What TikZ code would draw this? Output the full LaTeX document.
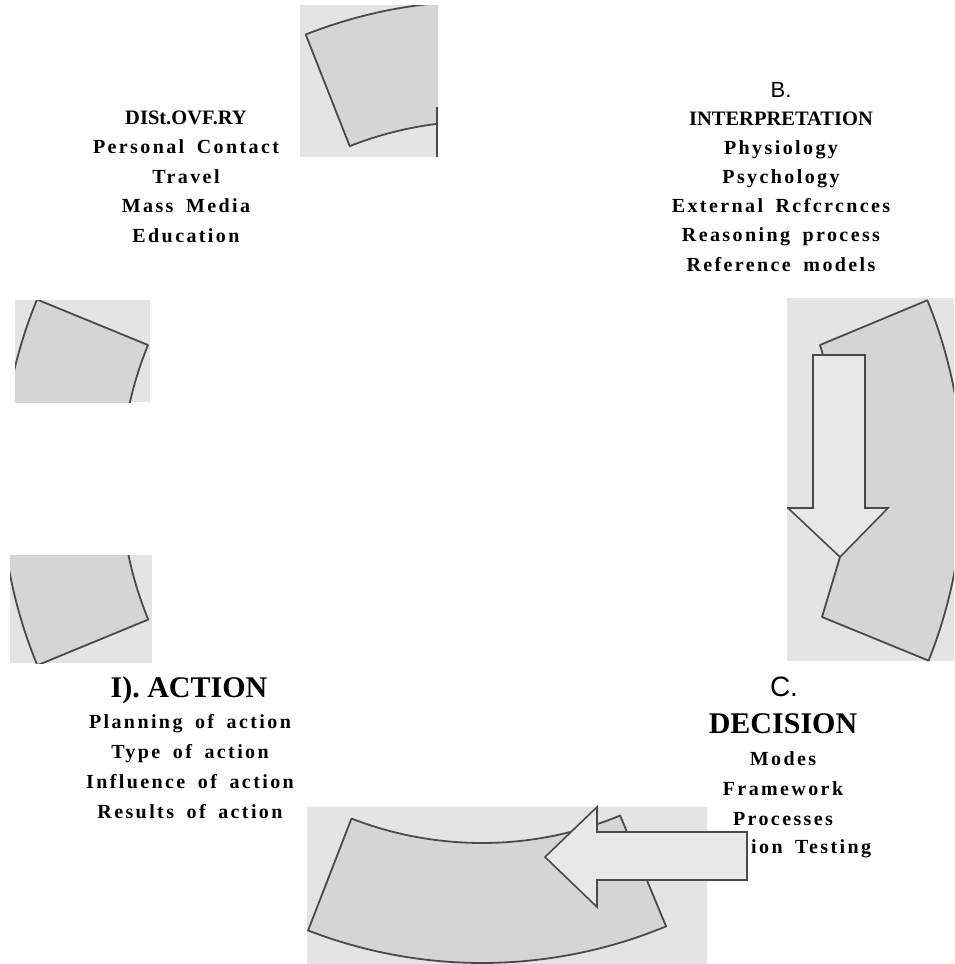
\documentclass[tikz,border=0pt]{standalone}
\usepackage{fontspec}
\setmainfont{Liberation Serif}
\newfontfamily\spacedserif[LetterSpace=12,WordSpace=1.7]{Liberation Serif}
\newfontfamily\labelsans{Liberation Sans}
\usetikzlibrary{calc}

\definecolor{scangray}{HTML}{E4E4E4}
\definecolor{bandgray}{HTML}{D5D5D5}
\definecolor{inkgray}{HTML}{4A4A4A}
\definecolor{arrowgray}{HTML}{E8E8E8}

\tikzset{
  scan/.style={fill=scangray, draw=none},
  band/.style={fill=bandgray, draw=inkgray, line width=1.8pt, line join=round},
  bigarrow/.style={fill=arrowgray, draw=inkgray, line width=1.6pt, line join=miter},
  itemtext/.style={font=\spacedserif\bfseries\fontsize{20}{24}\selectfont, inner sep=0pt, anchor=base},
  headtext/.style={font=\bfseries\fontsize{20.5}{24}\selectfont, inner sep=0pt, anchor=base},
  bigtext/.style={font=\bfseries\fontsize{30}{34}\selectfont, inner sep=0pt, anchor=base},
  lettertext/.style={font=\labelsans\fontsize{22}{26}\selectfont, inner sep=0pt, anchor=base},
}

\begin{document}
\begin{tikzpicture}[x=1pt,y=-1pt]
\fill[white] (0,0) rectangle (954,964);
\useasboundingbox (0,0) rectangle (954,964);
\coordinate (O) at (482,482);

  % top scrap
  \begin{scope}
  \clip (300,5) rectangle (438,157);
  \fill[scan] (300,5) rectangle (438,157);
  \draw[band] ($(O)+(-111.5:481)$) arc[start angle=-111.5, end angle=-75, radius=481]
     -- ($(O)+(-75:361)$) arc[start angle=-75, end angle=-111.5, radius=361] -- cycle;
  \end{scope}
  \draw[inkgray, line width=1.6pt] (437,107) -- (437,157);

  % left scraps
  \begin{scope}
  \clip (15,300) rectangle (150,402);
  \fill[scan] (15,300) rectangle (150,402);
  \draw[band] ($(O)+(-157.7:481)$) arc[start angle=-157.7, end angle=-185, radius=481]
     -- ($(O)+(-185:361)$) arc[start angle=-185, end angle=-157.7, radius=361] -- cycle;
  \end{scope}
  \begin{scope}
  \clip (10,555) rectangle (152,663);
  \fill[scan] (10,555) rectangle (152,663);
  \draw[band] ($(O)+(157.6:481)$) arc[start angle=157.6, end angle=185, radius=481]
     -- ($(O)+(185:361)$) arc[start angle=185, end angle=157.6, radius=361] -- cycle;
  \end{scope}

  % right scrap with down arrow
  \begin{scope}
  \clip (787,298) rectangle (954,661);
  \fill[scan] (787,298) rectangle (954,661);
  \draw[band] (823,355) -- (820,345) -- ($(O)+(-22.2:481)$)
     arc[start angle=-22.2, end angle=21.8, radius=481]
     -- (822,617) -- (840,557) -- cycle;
  \draw[bigarrow] (813,355) -- (865,355) -- (865,508) -- (888,508)
     -- (840,557) -- (788,508) -- (813,508) -- cycle;
  \end{scope}

  % bottom scrap with left arrow
  \begin{scope}
  \clip (307,807) rectangle (707,964);
  \fill[scan] (307,807) rectangle (707,964);
  \draw[band] ($(O)+(67.5:481)$) arc[start angle=67.5, end angle=111.2, radius=481]
     -- ($(O)+(111.2:361)$) arc[start angle=111.2, end angle=67.5, radius=361] -- cycle;
  \end{scope}
  \draw[bigarrow] (747,832) -- (597,832) -- (597,807) -- (545,857)
     -- (597,907) -- (597,880) -- (747,880) -- cycle;

  % A. discovery
  \node[headtext] (discovery) at (186,124) {DISt.OVF.RY};
  \foreach \txt [count=\i] in {Personal Contact, Travel, Mass Media, Education}
    \node[itemtext] (discovery-\i) at (186,{124+29.5*\i}) {\txt};

  % B. interpretation
  \node[lettertext] (interp-letter) at (781,97) {B.};
  \node[headtext] (interp) at (781,125) {INTERPRETATION};
  \foreach \txt [count=\i] in {Physiology, Psychology, External Rcfcrcnces,
      Reasoning process, Reference models}
    \node[itemtext] (interp-\i) at (781,{125+29.2*\i}) {\txt};

  % C. decision
  \node[lettertext, font=\labelsans\fontsize{28}{32}\selectfont] (decision-letter) at (784,696) {C.};
  \node[bigtext] (decision) at (783,733) {DECISION};
  \foreach \txt [count=\i] in {Modes, Framework, Processes}
    \node[itemtext] (decision-\i) at (783,{735+30*\i}) {\txt};
  \node[itemtext, anchor=base west] (decision-4) at (751,853) {ion Testing};

  % D. action
  \node[bigtext] (action) at (189,697) {I). ACTION};
  \foreach \txt [count=\i] in {Planning of action, Type of action,
      Influence of action, Results of action}
    \node[itemtext] (action-\i) at (190,{698+30*\i}) {\txt};
\end{tikzpicture}
\end{document}
